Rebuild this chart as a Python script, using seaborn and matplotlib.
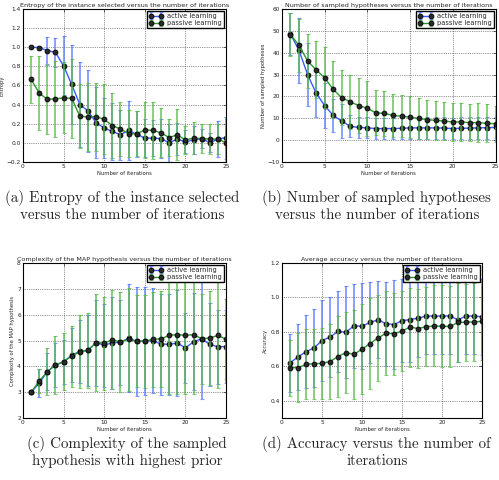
import numpy as np
import seaborn as sns
import matplotlib
matplotlib.use("Agg")
import matplotlib.pyplot as plt

# iterasi 1..25
iterations = list(range(1, 26))

# (a) entropy
entropy_active = [1.0, 0.995, 0.965, 0.945, 0.805, 0.61, 0.40, 0.335, 0.21, 0.155, 0.12, 0.085, 0.13,
                  0.09, 0.05, 0.05, 0.045, 0.0, 0.04, 0.01, 0.03, 0.045, 0.0, 0.04, 0.055]
entropy_active_sd = [0.0, 0.02, 0.14, 0.15, 0.31, 0.41, 0.44, 0.43, 0.37, 0.315, 0.30, 0.26, 0.31,
                     0.24, 0.2, 0.19, 0.2, 0.2, 0.17, 0.12, 0.15, 0.1, 0.1, 0.19, 0.22]
entropy_passive = [0.665, 0.52, 0.455, 0.46, 0.47, 0.465, 0.28, 0.27, 0.275, 0.245, 0.18, 0.145, 0.095,
                   0.095, 0.135, 0.13, 0.105, 0.055, 0.085, 0.03, 0.05, 0.045, 0.04, 0.04, 0.0]
entropy_passive_sd = [0.245, 0.385, 0.36, 0.4, 0.37, 0.41, 0.33, 0.36, 0.355, 0.365, 0.34, 0.285, 0.245,
                      0.235, 0.295, 0.3, 0.255, 0.195, 0.265, 0.15, 0.17, 0.155, 0.16, 0.16, 0.2]

# (b) jumlah hipotesis
hyp_active = [48.5, 41.0, 30.0, 21.5, 15.8, 11.3, 8.7, 6.3, 5.8, 5.6, 5.3, 5.3, 5.3,
              5.4, 5.6, 5.6, 5.6, 5.6, 5.5, 5.3, 5.4, 5.5, 5.6, 5.7, 5.8]
hyp_active_sd = [9.7, 15.0, 14.5, 11.0, 10.3, 7.7, 7.7, 5.0, 4.6, 4.8, 5.0, 5.0, 5.0,
                 5.0, 5.0, 5.0, 5.0, 5.0, 5.0, 5.0, 5.0, 5.0, 5.0, 5.0, 5.0]
hyp_passive = [48.2, 43.3, 36.2, 32.1, 28.5, 23.2, 19.4, 17.5, 15.8, 14.5, 12.5, 12.2, 11.3,
               10.9, 10.5, 9.9, 9.4, 9.0, 8.7, 8.3, 8.3, 8.0, 8.0, 7.7, 7.5]
hyp_passive_sd = [9.7, 12.2, 12.3, 13.0, 14.0, 13.0, 12.7, 12.5, 12.7, 12.5, 10.2, 10.3, 9.7,
                  9.6, 9.5, 9.3, 9.1, 8.8, 8.8, 8.7, 8.7, 8.5, 8.8, 8.6, 8.3]

# (c) kompleksitas hipotesis MAP
comp_active = [3.0, 3.35, 3.8, 4.05, 4.18, 4.43, 4.58, 4.62, 4.92, 4.82, 4.92, 4.93, 5.1,
               4.97, 4.98, 5.0, 4.86, 4.86, 4.9, 4.72, 4.95, 5.07, 4.85, 4.76, 4.77]
comp_active_sd = [0.0, 0.55, 0.73, 0.85, 0.85, 1.04, 1.22, 1.37, 1.66, 1.6, 1.78, 1.64, 2.1,
                  2.1, 2.1, 2.03, 1.95, 1.95, 2.05, 1.35, 1.88, 2.35, 1.6, 1.43, 1.42]
comp_passive = [3.0, 3.43, 3.8, 4.05, 4.18, 4.4, 4.57, 4.62, 4.92, 4.9, 5.03, 4.95, 5.05,
                4.97, 4.98, 5.05, 5.07, 5.2, 5.23, 5.2, 5.23, 5.07, 5.1, 5.2, 5.05]
comp_passive_sd = [0.0, 0.46, 0.9, 1.12, 1.1, 1.18, 1.4, 1.45, 1.88, 1.8, 1.92, 1.93, 2.0,
                   1.78, 1.8, 1.83, 1.85, 2.28, 2.28, 2.27, 2.28, 1.75, 1.83, 2.05, 1.55]

# (d) akurasi
acc_active = [0.62, 0.655, 0.685, 0.707, 0.75, 0.77, 0.803, 0.798, 0.836, 0.833, 0.855, 0.87, 0.848,
              0.843, 0.865, 0.872, 0.88, 0.892, 0.892, 0.892, 0.893, 0.87, 0.893, 0.892, 0.888]
acc_active_sd = [0.17, 0.19, 0.213, 0.225, 0.235, 0.23, 0.233, 0.267, 0.244, 0.25, 0.233, 0.223, 0.243,
                 0.257, 0.242, 0.247, 0.225, 0.222, 0.222, 0.222, 0.221, 0.245, 0.221, 0.222, 0.22]
acc_passive = [0.593, 0.592, 0.612, 0.615, 0.618, 0.628, 0.657, 0.68, 0.67, 0.7, 0.732, 0.765, 0.792,
               0.79, 0.805, 0.828, 0.82, 0.83, 0.835, 0.833, 0.832, 0.855, 0.857, 0.858, 0.862]
acc_passive_sd = [0.163, 0.2, 0.203, 0.205, 0.205, 0.216, 0.233, 0.235, 0.258, 0.263, 0.265, 0.247, 0.243,
                  0.238, 0.234, 0.23, 0.232, 0.23, 0.235, 0.238, 0.235, 0.23, 0.224, 0.228, 0.227]

series_labels = ["active learning", "passive learning"]
captions = [
    "(a) Entropy of the instance selected\nversus the number of iterations",
    "(b) Number of sampled hypotheses\nversus the number of iterations",
    "(c) Complexity of the sampled\nhypothesis with highest prior",
    "(d) Accuracy versus the number of\niterations",
]

sns.set_style("whitegrid", {"grid.linestyle": ":", "grid.color": "0.2", "axes.edgecolor": "k",
                            "xtick.direction": "in", "ytick.direction": "in"})
plt.rcParams["font.family"] = ["DejaVu Sans"]
plt.rcParams["axes.linewidth"] = 0.8
plt.rcParams["grid.linewidth"] = 0.5

BLUE = "#3a5cff"
GREEN = "#2a9a2a"
BLUE_EB = "#5577ff"
GREEN_EB = "#55bb44"


def draw_panel(ax, act, act_sd, pas, pas_sd, title, ylabel, ylim, yticks):
    handles = []
    for mean, sd, col, ecol in [(act, act_sd, BLUE, BLUE_EB), (pas, pas_sd, GREEN, GREEN_EB)]:
        eb = ax.errorbar(iterations, mean, yerr=sd, fmt="none", ecolor=ecol, alpha=0.75,
                         elinewidth=1.3, capsize=1.3, capthick=0.8)
        sns.lineplot(x=iterations, y=mean, ax=ax, color=col, linewidth=1.0, marker="o",
                     markersize=3.5, markerfacecolor="#2a2a2a", markeredgecolor="k",
                     markeredgewidth=0.6, legend=False)
        handles.append((eb, ax.lines[-1]))
    ax.set_xlim(0, 25)
    ax.set_xticks([0, 5, 10, 15, 20, 25])
    ax.set_ylim(*ylim)
    ax.set_yticks(yticks)
    ax.set_title(title, fontsize=4.6, pad=1.5)
    ax.set_xlabel("Number of iterations", fontsize=3.8, labelpad=1.5)
    ax.set_ylabel(ylabel, fontsize=3.8, labelpad=1.5)
    ax.tick_params(labelsize=4.2, length=2, width=0.5, pad=1.5, top=True, right=True)
    ax.grid(True)
    ax.legend(handles, series_labels, loc="upper right", fontsize=4.8, numpoints=2,
              frameon=True, fancybox=False, edgecolor="k", framealpha=1,
              borderpad=0.3, labelspacing=0.2, handlelength=2.2, handletextpad=0.6,
              borderaxespad=0.3)
    for s in ax.spines.values():
        s.set_color("k")


fig = plt.figure(figsize=(4.99, 4.8), dpi=100)

ax_a = fig.add_axes([0.046, 0.6625, 0.407, 0.319])
draw_panel(ax_a, entropy_active, entropy_active_sd, entropy_passive, entropy_passive_sd,
           "Entropy of the instance selected versus the number of iterations", "Entropy",
           (-0.2, 1.4), np.round(np.arange(-0.2, 1.41, 0.2), 1))

ax_b = fig.add_axes([0.565, 0.6625, 0.428, 0.319])
draw_panel(ax_b, hyp_active, hyp_active_sd, hyp_passive, hyp_passive_sd,
           "Number of sampled hypotheses versus the number of iterations",
           "Number of sampled hypotheses", (-10, 60), np.arange(-10, 61, 10))

ax_c = fig.add_axes([0.046, 0.129, 0.407, 0.323])
draw_panel(ax_c, comp_active, comp_active_sd, comp_passive, comp_passive_sd,
           "Complexity of the MAP hypothesis versus the number of iterations",
           "Complexity of the MAP hypothesis", (2, 8), np.arange(2, 9, 1))

ax_d = fig.add_axes([0.565, 0.129, 0.401, 0.323])
draw_panel(ax_d, acc_active, acc_active_sd, acc_passive, acc_passive_sd,
           "Average accuracy versus the number of iterations", "Accuracy",
           (0.3, 1.2), np.round(np.arange(0.4, 1.21, 0.2), 1))

# keterangan di bawah tiap grafik
cap_pos = [(0.245, 1 - 206 / 480), (0.755, 1 - 206 / 480), (0.255, 1 - 452 / 480), (0.755, 1 - 452 / 480)]
for (cx, cy), txt in zip(cap_pos, captions):
    fig.text(cx, cy, txt, ha="center", va="center", fontsize=10.8, family="cmr10",
             linespacing=1.15)

fig.savefig("out.png", dpi=100)
